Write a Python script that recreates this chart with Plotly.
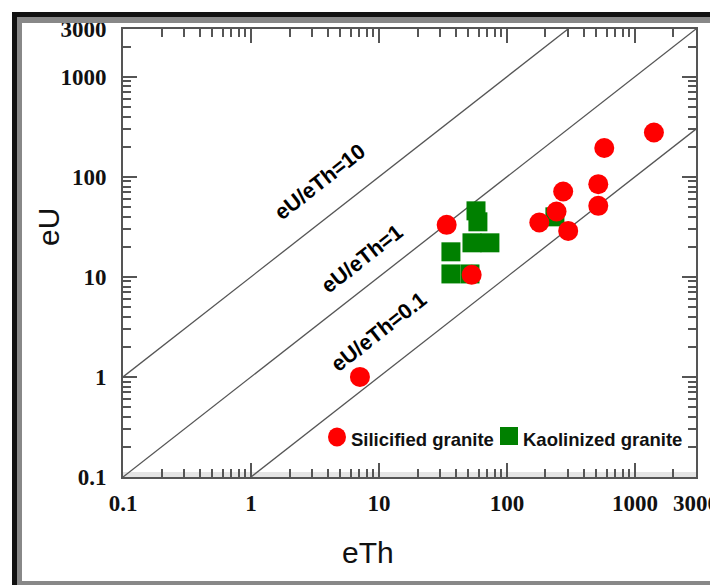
import math
import plotly.graph_objects as go

# ---- data ----
silicified_eTh = [7.1, 33.8, 53, 179, 244, 275, 301, 517, 517, 576, 1407]
silicified_eU = [1.0, 33.1, 10.5, 34.9, 45, 71.3, 28.8, 84.5, 51.3, 194, 277]

kaolinized_eTh = [57.3, 59.3, 53.3, 73.6, 36.5, 36.5, 51.4, 237]
kaolinized_eU = [45.7, 35.5, 21.9, 21.9, 17.8, 10.7, 10.7, 39.8]

ratio_values = [10, 1, 0.1]
ratio_labels = ["eU/eTh=10", "eU/eTh=1", "eU/eTh=0.1"]
ratio_label_x = [3.46, 7.37, 10.0]
ratio_label_y = [88.7, 15.1, 2.81]
line_x = [0.1, 3000]

tick_vals = [0.1, 1, 10, 100, 1000, 3000]
tick_text = ["0.1", "1", "10", "100", "1000", "3000"]
minor_vals = [m * d for d in [0.1, 1, 10, 100] for m in range(2, 10)] + [2000]

# ---- layout geometry (page pixels; page has an 8px body margin) ----
OFF = 8
W, H = 718 - OFF, 585 - OFF
PL, PT, PR, PB = 123, 29, 696, 477          # plot area in page pixels
L, T, R, B = PL - OFF, PT - OFF, 718 - PR, 585 - PB
PW, PH = PR - PL, PB - PT


def px(xp):
    return (xp - PL) / PW


def py(yp):
    return (PB - yp) / PH


fig = go.Figure()

for r in ratio_values:
    fig.add_trace(go.Scatter(
        x=line_x, y=[r * v for v in line_x], mode="lines",
        line=dict(color="#555555", width=1.3), showlegend=False, hoverinfo="skip"))

fig.add_trace(go.Scatter(
    x=kaolinized_eTh, y=kaolinized_eU, mode="markers", name="Kaolinized granite",
    marker=dict(symbol="square", size=19, color="#008000", line=dict(width=0)),
    showlegend=False))
fig.add_trace(go.Scatter(
    x=silicified_eTh, y=silicified_eU, mode="markers", name="Silicified granite",
    marker=dict(symbol="circle", size=20, color="#ff0000", line=dict(width=0)),
    showlegend=False))

for lab, lx, ly in zip(ratio_labels, ratio_label_x, ratio_label_y):
    fig.add_annotation(x=math.log10(lx), y=math.log10(ly), xref="x", yref="y",
                       text=lab, showarrow=False, textangle=-38,
                       font=dict(family="Liberation Sans", size=21.5, color="black", weight="bold"))

# manual legend
fig.add_shape(type="circle", xref="paper", yref="paper", xsizemode="pixel", ysizemode="pixel",
              xanchor=px(337), yanchor=py(437), x0=-9, x1=9, y0=-9.5, y1=9.5,
              fillcolor="#ff0000", line=dict(width=0))
fig.add_annotation(x=px(349), y=py(439), xref="paper", yref="paper", xanchor="left", yanchor="middle",
                   text="Silicified granite", showarrow=False,
                   font=dict(family="Liberation Sans", size=18.5, color="#111111", weight="bold"))
fig.add_shape(type="rect", xref="paper", yref="paper", xsizemode="pixel", ysizemode="pixel",
              xanchor=px(509), yanchor=py(436), x0=-9, x1=9, y0=-9, y1=9,
              fillcolor="#008000", line=dict(width=0))
fig.add_annotation(x=px(521), y=py(439), xref="paper", yref="paper", xanchor="left", yanchor="middle",
                   text="Kaolinized granite", showarrow=False,
                   font=dict(family="Liberation Sans", size=18.5, color="#111111", weight="bold"))

# axis titles
fig.add_annotation(x=px(48), y=py(227), xref="paper", yref="paper", text="eU", showarrow=False,
                   textangle=-90, xanchor="center", yanchor="middle",
                   font=dict(family="Liberation Sans", size=30, color="#111111"))
fig.add_annotation(x=px(368), y=py(552), xref="paper", yref="paper", text="eTh", showarrow=False,
                   xanchor="center", yanchor="middle",
                   font=dict(family="Liberation Sans", size=30, color="#111111"))

# light band above bottom spine
fig.add_shape(type="rect", xref="paper", yref="paper", x0=0, x1=1, y0=py(477), y1=py(472),
              fillcolor="#e4e4e4", line=dict(width=0), layer="below")

# outer frame
frame = [
    (12, 17, 12, 585, "#111111"),
    (12, 718, 12, 17, "#111111"),
    (17, 22, 17, 582, "#888888"),
    (17, 718, 17, 23, "#888888"),
    (17, 718, 581, 585, "#888888"),
]
for x0, x1, y0, y1, c in frame:
    fig.add_shape(type="rect", xref="paper", yref="paper", x0=px(x0), x1=px(x1),
                  y0=py(y1), y1=py(y0), fillcolor=c, line=dict(width=0))

rng = [-1, math.log10(3000) + 1e-6]
axis_common = dict(
    type="log", range=rng, showgrid=False, zeroline=False, automargin=False,
    showline=True, linecolor="#555555", linewidth=2, mirror="allticks",
    ticks="inside", ticklen=14, tickwidth=1.5, tickcolor="#555555",
    tickvals=tick_vals, ticktext=tick_text, ticklabeloverflow="allow",
    tickfont=dict(family="Liberation Serif", size=23, color="#111111", weight="bold"),
    minor=dict(ticks="inside", ticklen=8, tickwidth=1.5, tickcolor="#555555", tickvals=minor_vals),
)

fig.update_xaxes(ticklabelstandoff=4, **axis_common)
fig.update_yaxes(ticklabelstandoff=10, **axis_common)

fig.update_layout(
    width=W, height=H,
    margin=dict(l=L, r=R, t=T, b=B, pad=0),
    plot_bgcolor="white", paper_bgcolor="white",
    showlegend=False,
)

fig.write_html("out.html")
